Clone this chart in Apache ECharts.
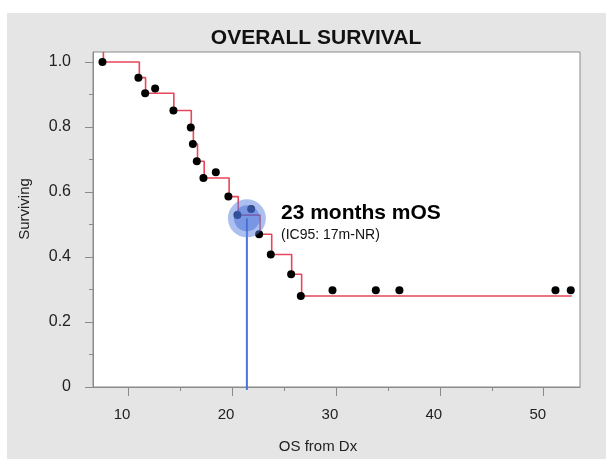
<!DOCTYPE html>
<html><head><meta charset="utf-8">
<script src="https://cdn.jsdelivr.net/npm/echarts@6/dist/echarts.min.js"></script>
<style>html,body{margin:0;padding:0;background:#fff}#c{width:606px;height:459px}</style>
</head><body><div id="c"></div>
<script>
// ---- data ----
const xMin = 6.62, xMax = 53.49;
const yMin = 0, yMax = 1.031;
// Kaplan-Meier step curve: drop times and survival levels
const stepTimes  = [7.62, 11.08, 11.68, 14.40, 16.08, 16.28, 16.68, 17.32, 19.72, 20.60, 22.70, 23.82, 25.74, 26.70];
const stepLevels = [1.000, 0.952, 0.904, 0.851, 0.799, 0.748, 0.695, 0.643, 0.586, 0.529, 0.470, 0.408, 0.347, 0.280];
const curveEnd = 52.7;
// event dots
const eventX = [7.53, 10.99, 11.64, 14.36, 16.03, 16.23, 16.61, 17.25, 19.65, 20.52, 22.61, 23.73, 25.69, 26.62];
const eventY = [1.000, 0.952, 0.904, 0.851, 0.799, 0.748, 0.695, 0.643, 0.586, 0.529, 0.470, 0.408, 0.347, 0.280];
// censored dots
const censorX = [12.60, 18.44, 21.84, 29.67, 33.84, 36.11, 51.13, 52.60];
const censorY = [0.919, 0.661, 0.548, 0.298, 0.298, 0.298, 0.298, 0.298];
// median OS marker
const medianX = 21.43, medianY = 0.519, medianLineBottom = -0.009;
// ticks
const xMajorTicks = [10, 20, 30, 40, 50];
const xMinorTicks = [15, 25, 35, 45];
const yMajorTicks = [0, 0.2, 0.4, 0.6, 0.8, 1.0];
const yMinorTicks = [0.1, 0.3, 0.5, 0.7, 0.9];

const FONT = '"Liberation Sans", Arial, sans-serif';
const AXIS_COLOR = '#8a8a8a';

// step line data (start at top of plot, drop to first level)
const stepData = [[stepTimes[0], yMax]];
stepTimes.forEach((t, i) => stepData.push([t, stepLevels[i]]));
stepData.push([curveEnd, stepLevels[stepLevels.length - 1]]);

const dots = eventX.map((x, i) => [x, eventY[i]]).concat(censorX.map((x, i) => [x, censorY[i]]));

const chart = echarts.init(document.getElementById('c'), null, {renderer: 'canvas'});
chart.setOption({
  animation: false,
  backgroundColor: 'transparent',
  title: {
    text: 'OVERALL SURVIVAL', left: 311, top: 23, textAlign: 'center',
    textStyle: {fontFamily: FONT, fontSize: 21, fontWeight: 'bold', color: '#111'}
  },
  grid: {
    left: 93, top: 52, right: 26, bottom: 72, containLabel: false,
    show: true, backgroundColor: '#fff', borderColor: AXIS_COLOR, borderWidth: 1
  },
  graphic: [
    {type: 'rect', z: -10, silent: true, shape: {x: 7, y: 13, width: 599, height: 446}, style: {fill: '#e5e5e5'}},
    {type: 'text', x: 318, y: 447, silent: true,
     style: {text: 'OS from Dx', font: '15px ' + FONT, fill: '#222', align: 'center', verticalAlign: 'middle'}},
    {type: 'text', x: 25, y: 209, rotation: Math.PI / 2, silent: true,
     style: {text: 'Surviving', font: '15px ' + FONT, fill: '#222', align: 'center', verticalAlign: 'middle'}},
    {type: 'text', x: 281, y: 213, silent: true, z: 10,
     style: {text: '23 months mOS', font: 'bold 21px ' + FONT, fill: '#000', align: 'left', verticalAlign: 'middle'}},
    {type: 'text', x: 281, y: 235, silent: true, z: 10,
     style: {text: '(IC95: 17m-NR)', font: '14px ' + FONT, fill: '#111', align: 'left', verticalAlign: 'middle'}}
  ],
  xAxis: [
    {
      type: 'value', min: xMin, max: xMax, position: 'bottom',
      axisLine: {show: true, onZero: false, lineStyle: {color: AXIS_COLOR}},
      axisTick: {show: true, customValues: xMajorTicks, length: 9, lineStyle: {color: AXIS_COLOR}},
      axisLabel: {customValues: xMajorTicks, margin: 20, fontSize: 15, fontFamily: FONT, color: '#222', padding: [0, 12, 0, 0]},
      splitLine: {show: false}
    },
    {
      type: 'value', min: xMin, max: xMax, position: 'bottom',
      axisLine: {show: false},
      axisTick: {show: true, customValues: xMinorTicks, length: 4, lineStyle: {color: AXIS_COLOR}},
      axisLabel: {show: false}, splitLine: {show: false}
    }
  ],
  yAxis: [
    {
      type: 'value', min: yMin, max: yMax, position: 'left',
      axisLine: {show: true, onZero: false, lineStyle: {color: AXIS_COLOR}},
      axisTick: {show: true, customValues: yMajorTicks, length: 8, lineStyle: {color: AXIS_COLOR}},
      axisLabel: {customValues: yMajorTicks, margin: 22, fontSize: 16, fontFamily: FONT, color: '#222',
        formatter: v => (v === 0 ? '0' : v.toFixed(1))},
      splitLine: {show: false}
    },
    {
      type: 'value', min: yMin, max: yMax, position: 'left',
      axisLine: {show: false},
      axisTick: {show: true, customValues: yMinorTicks, length: 4, lineStyle: {color: AXIS_COLOR}},
      axisLabel: {show: false}, splitLine: {show: false}
    }
  ],
  series: [
    {
      type: 'line', step: 'end', data: stepData, showSymbol: false, z: 2,
      lineStyle: {color: '#e8465a', width: 1.6}
    },
    {
      type: 'line', data: [[medianX, medianY], [medianX, medianLineBottom]], showSymbol: false, clip: false, z: 1,
      lineStyle: {color: '#4a74dc', width: 2}
    },
    {
      type: 'scatter', data: dots, symbolSize: 8, z: 3,
      itemStyle: {color: '#000', opacity: 1}
    },
    {
      type: 'scatter', data: [[medianX, medianY]], symbolSize: 38, z: 4, silent: true,
      itemStyle: {color: 'rgba(90,130,225,0.5)', opacity: 1}
    },
    {
      type: 'scatter', data: [[medianX, medianY]], symbolSize: 26, z: 5, silent: true,
      itemStyle: {color: 'rgba(60,100,210,0.45)', opacity: 1}
    }
  ]
});
</script>
</body></html>
